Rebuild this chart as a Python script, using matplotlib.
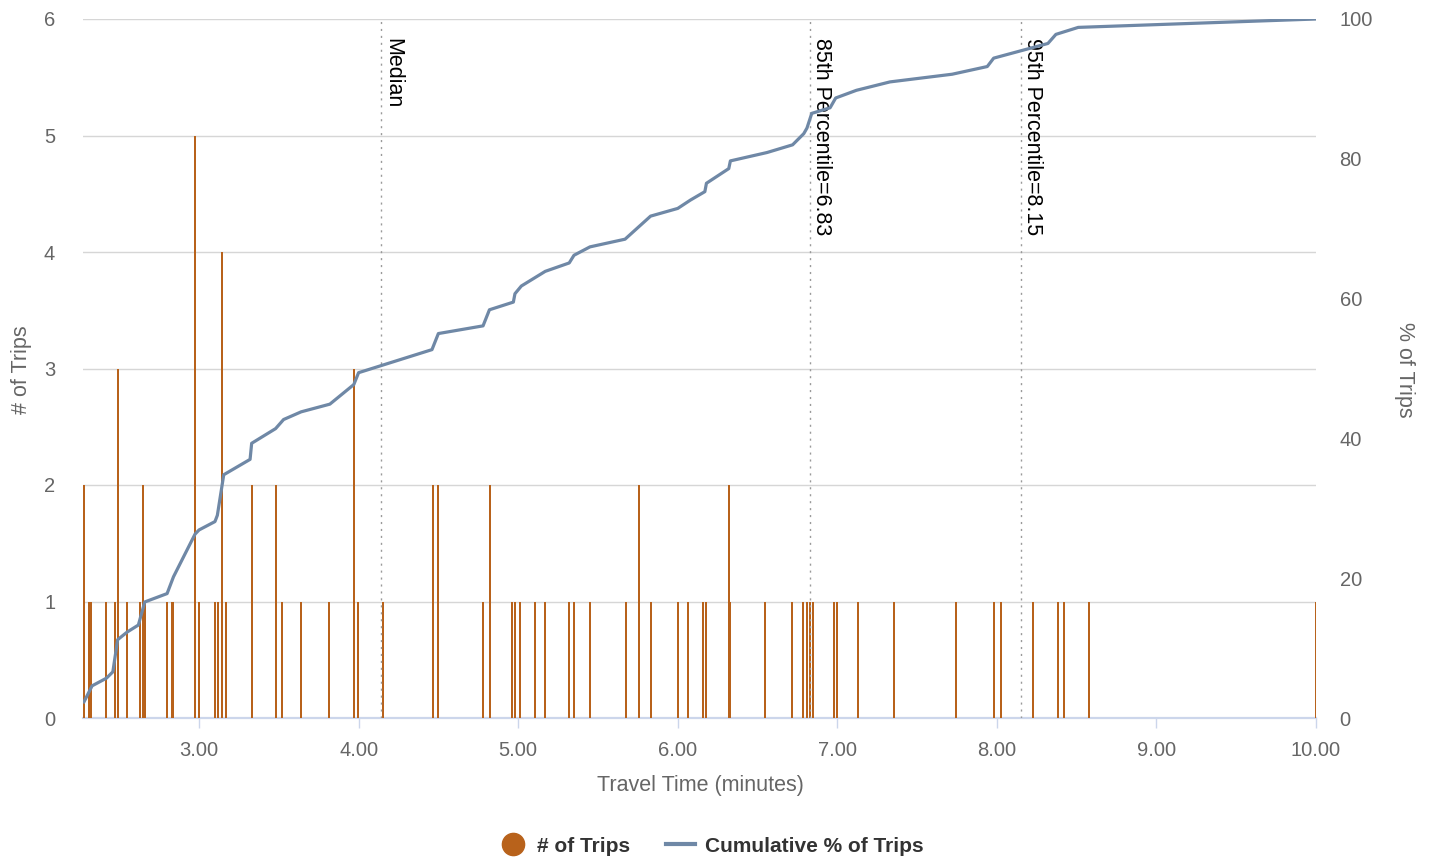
import matplotlib
matplotlib.use("Agg")
import matplotlib.pyplot as plt
from matplotlib.lines import Line2D
import matplotlib.transforms as mtransforms

plt.rcParams['font.family'] = ['Liberation Sans', 'DejaVu Sans']

# ---------------- data ----------------
trip_times = [2.279, 2.31, 2.325, 2.417, 2.474, 2.49, 2.55, 2.63, 2.647, 2.66,
              2.80, 2.83, 2.84, 2.975, 3.00, 3.10, 3.12, 3.145, 3.17, 3.33,
              3.48, 3.52, 3.64, 3.815, 3.97, 3.995, 4.15, 4.465, 4.495, 4.778,
              4.824, 4.96, 4.98, 5.01, 5.105, 5.17, 5.32, 5.35, 5.45, 5.675,
              5.76, 5.83, 6.0, 6.064, 6.16, 6.18, 6.32, 6.33, 6.547, 6.714,
              6.785, 6.81, 6.83, 6.848, 6.98, 7.0, 7.128, 7.356, 7.744, 7.982,
              8.026, 8.227, 8.383, 8.42, 8.577, 10.0]
trip_counts = [2, 1, 1, 1, 1, 3, 1, 1, 2, 1,
               1, 1, 1, 5, 1, 1, 1, 4, 1, 2,
               2, 1, 1, 1, 3, 1, 1, 2, 2, 1,
               2, 1, 1, 1, 1, 1, 1, 1, 1, 1,
               2, 1, 1, 1, 1, 1, 2, 1, 1, 1,
               1, 1, 1, 1, 1, 1, 1, 1, 1, 1,
               1, 1, 1, 1, 1, 1]

cum_times = [2.279, 2.33, 2.42, 2.46, 2.49, 2.55, 2.62, 2.66, 2.80, 2.84,
             2.975, 3.00, 3.10, 3.115, 3.155, 3.32, 3.33, 3.48, 3.53, 3.64,
             3.82, 3.97, 4.00, 4.46, 4.50, 4.78, 4.82, 4.97, 4.98, 5.02,
             5.17, 5.32, 5.35, 5.45, 5.67, 5.83, 6.00, 6.08, 6.17, 6.18,
             6.32, 6.33, 6.56, 6.72, 6.79, 6.81, 6.84, 6.955, 6.99, 7.12,
             7.33, 7.72, 7.94, 7.98, 8.32, 8.37, 8.51, 10.0]
cum_pct = [2.3, 4.6, 5.7, 6.6, 11.2, 12.3, 13.3, 16.6, 17.8, 20.2,
           26.3, 26.9, 28.1, 29.0, 34.8, 37.0, 39.3, 41.4, 42.7, 43.8,
           44.9, 47.7, 49.4, 52.7, 55.0, 56.1, 58.4, 59.5, 60.7, 61.8,
           63.9, 65.1, 66.2, 67.4, 68.5, 71.8, 72.9, 74.1, 75.3, 76.5,
           78.6, 79.7, 80.9, 82.0, 83.6, 84.4, 86.5, 87.3, 88.7, 89.8,
           91.0, 92.1, 93.2, 94.4, 96.5, 97.8, 98.8, 100.0]

ref_values = [4.14, 6.83, 8.15]
ref_labels = ["Median", "85th Percentile=6.83", "95th Percentile=8.15"]

x_ticks = [3, 4, 5, 6, 7, 8, 9, 10]
left_ticks = [0, 1, 2, 3, 4, 5, 6]
right_ticks = [0, 20, 40, 60, 80, 100]

bar_color = '#b8621b'
line_color = '#6f88a6'
label_grey = '#666666'
axis_col = '#ccd6eb'

# ---------------- figure ----------------
W, H = 1435, 860
fig = plt.figure(figsize=(W / 100, H / 100), dpi=100)
ax = fig.add_axes([83 / W, (H - 718) / H, (1316 - 83) / W, 699 / H])

ax.bar(trip_times, trip_counts, width=0.0125, color=bar_color, linewidth=0, zorder=2)
ax.set_xlim(2.273, 10.0)
ax.set_ylim(0, 6)
ax.set_yticks(left_ticks)
ax.set_xticks(x_ticks)
ax.set_xticklabels([f"{v:.2f}" for v in x_ticks])
ax.yaxis.grid(True, color='#d6d6d6', linewidth=1.0)
ax.set_axisbelow(True)
for s in ['top', 'left', 'right']:
    ax.spines[s].set_visible(False)
ax.spines['bottom'].set_color(axis_col)
ax.spines['bottom'].set_linewidth(1.6)
ax.spines['bottom'].set_zorder(1)
ax.tick_params(axis='x', length=7.5, width=1, color=axis_col, labelsize=14.5,
               labelcolor=label_grey, pad=9)
ax.tick_params(axis='y', length=0, labelsize=14.5, labelcolor=label_grey, pad=20)

# reference lines
for v, lab in zip(ref_values, ref_labels):
    ax.axvline(v, color='#9a9a9a', linewidth=1.0, linestyle=(0, (1.5, 3.5)), zorder=4)
    trans = mtransforms.blended_transform_factory(ax.transData, ax.transAxes)
    trans = mtransforms.offset_copy(trans, fig=fig, x=1, y=0, units='dots')
    ax.text(v, 0.9728, lab, transform=trans, rotation=270, ha='left', va='top',
            fontsize=15.5, color='black', zorder=5)

ax2 = ax.twinx()
ax2.set_ylim(0, 100)
ax2.set_yticks(right_ticks)
for s in ['top', 'left', 'right', 'bottom']:
    ax2.spines[s].set_visible(False)
ax2.tick_params(axis='y', length=0, labelsize=14.5, labelcolor=label_grey, pad=17)
ax2.plot(cum_times, cum_pct, color=line_color, linewidth=2.3, solid_joinstyle='round', zorder=3)

# axis titles
fig.text(700 / W, 1 - 785 / H, "Travel Time (minutes)", ha='center', va='center',
         fontsize=15.5, color=label_grey)
fig.text(22 / W, 1 - 370 / H, "# of Trips", ha='center', va='center', rotation=90,
         fontsize=15.5, color=label_grey)
fig.text(1405 / W, 1 - 370 / H, "% of Trips", ha='center', va='center', rotation=270,
         fontsize=15.5, color=label_grey)

# legend
handles = [Line2D([], [], linestyle='none', marker='o', markersize=16,
                  markerfacecolor=bar_color, markeredgecolor=bar_color),
           Line2D([], [], color=line_color, linewidth=3)]
leg = fig.legend(handles, ["# of Trips", "Cumulative % of Trips"], ncol=2, loc='center',
                 bbox_to_anchor=(711 / W, 1 - 846 / H), frameon=False, handlelength=1.35,
                 handletextpad=0.48, columnspacing=1.75, borderpad=0, borderaxespad=0,
                 prop={'weight': 'bold', 'size': 15})
for t in leg.get_texts():
    t.set_color('#333333')

fig.savefig("out.png", dpi=100)
